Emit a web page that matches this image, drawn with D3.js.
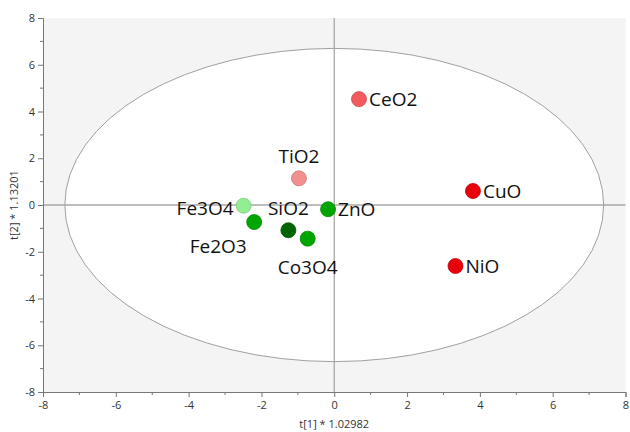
<html>
<head>
  <meta charset="utf-8">
  <script src="https://cdn.jsdelivr.net/npm/d3@7"></script>
  <style>
    body { margin: 0; background: #fff; }
    text { font-family: "Open Sans", "Noto Sans", sans-serif; }
  </style>
</head>
<body>
  <div id="chart"></div>
  <script>
    // scores
    const names = ["CeO2", "CuO", "NiO", "ZnO", "TiO2", "Fe3O4", "Fe2O3", "SiO2", "Co3O4"];
    const t1 = [0.68, 3.81, 3.33, -0.17, -0.97, -2.49, -2.20, -1.26, -0.73];
    const t2 = [4.53, 0.60, -2.61, -0.18, 1.14, -0.03, -0.73, -1.08, -1.44];
    const groups = ["ce", "cu", "cu", "zn", "ti", "fe3", "zn", "si", "zn"];
    const ticks = [-8, -6, -4, -2, 0, 2, 4, 6, 8];
    const ellipseR = [7.4, 6.7];   // Hotelling T2 ellipse radii

    const data = names.map((n, i) => ({ name: n, x: t1[i], y: t2[i], g: groups[i] }));

    const width = 630, height = 432;
    const margin = { top: 18, right: 4, bottom: 40, left: 43 };

    const fill = d3.scaleOrdinal()
      .domain(["ce", "cu", "ti", "fe3", "zn", "si"])
      .range(["#f25a5f", "#e8000b", "#f28f8f", "#93ee93", "#00a600", "#006400"]);

    // label placement relative to the point (dx, dy, anchor)
    const labelPos = {
      CeO2: [10, 0, "start"], CuO: [10, 0, "start"], NiO: [10, 0, "start"], ZnO: [10, 0, "start"],
      TiO2: [0, -22, "middle"], SiO2: [0, -22, "middle"], Fe3O4: [-10, 2, "end"],
      Fe2O3: [-36, 24, "middle"], Co3O4: [0, 28, "middle"]
    };

    const svg = d3.create("svg").attr("width", width).attr("height", height);

    const x = d3.scaleLinear().domain([-8, 8]).range([margin.left, width - margin.right - 0.5]);
    const y = d3.scaleLinear().domain([-8, 8]).range([height - margin.bottom, margin.top]);

    svg.append("rect")
      .attr("x", x(-8)).attr("y", y(8))
      .attr("width", x(8) - x(-8)).attr("height", y(-8) - y(8))
      .attr("fill", "#f4f4f4");

    svg.append("ellipse")
      .attr("cx", x(0)).attr("cy", y(0))
      .attr("rx", x(ellipseR[0]) - x(0)).attr("ry", y(0) - y(ellipseR[1]))
      .attr("fill", "#fff").attr("stroke", "#a0a0a0").attr("stroke-width", 1);

    // zero lines
    svg.append("line")
      .attr("x1", x(0)).attr("x2", x(0)).attr("y1", y(8)).attr("y2", y(-8))
      .attr("stroke", "#a8a8a8").attr("stroke-width", 1.3);
    svg.append("line")
      .attr("x1", x(-8)).attr("x2", x(8)).attr("y1", y(0)).attr("y2", y(0))
      .attr("stroke", "#a8a8a8").attr("stroke-width", 1.3);

    const minor = d3.range(-7, 8, 2);

    const xAxis = svg.append("g")
      .attr("transform", `translate(0,${y(-8)})`)
      .call(d3.axisBottom(x).tickValues(ticks).tickSize(5).tickPadding(4).tickFormat(d => String(d)));
    xAxis.append("g").selectAll("line").data(minor).join("line")
      .attr("x1", d => x(d)).attr("x2", d => x(d)).attr("y1", 0).attr("y2", 3)
      .attr("stroke", "#777");

    const yAxis = svg.append("g")
      .attr("transform", `translate(${x(-8)},0)`)
      .call(d3.axisLeft(y).tickValues(ticks).tickSize(5).tickPadding(3).tickFormat(d => String(d)));
    yAxis.append("g").selectAll("line").data(minor).join("line")
      .attr("y1", d => y(d)).attr("y2", d => y(d)).attr("x1", 0).attr("x2", -3)
      .attr("stroke", "#777");

    svg.selectAll(".domain, .tick line").attr("stroke", "#777");
    svg.selectAll(".tick text").attr("fill", "#333").attr("font-size", 11)
      .style("font-family", "'Open Sans', sans-serif");

    svg.append("text")
      .attr("x", x(0)).attr("y", height - 4)
      .attr("text-anchor", "middle").attr("font-size", 11).attr("fill", "#333")
      .text("t[1] * 1.02982");

    svg.append("text")
      .attr("transform", `translate(18,${y(0)}) rotate(-90)`)
      .attr("text-anchor", "middle").attr("font-size", 11).attr("fill", "#333")
      .text("t[2] * 1.13201");

    svg.append("g").selectAll("circle").data(data).join("circle")
      .attr("cx", d => x(d.x)).attr("cy", d => y(d.y)).attr("r", 7.5)
      .attr("fill", d => fill(d.g))
      .attr("stroke", d => d3.color(fill(d.g)).darker(0.5))
      .attr("stroke-width", 0.8);

    svg.append("g").selectAll("text").data(data).join("text")
      .attr("x", d => x(d.x) + labelPos[d.name][0])
      .attr("y", d => y(d.y) + labelPos[d.name][1])
      .attr("dy", "0.36em")
      .attr("text-anchor", d => labelPos[d.name][2])
      .attr("font-size", 19).attr("fill", "#111")
      .text(d => d.name);

    document.getElementById("chart").appendChild(svg.node());
  </script>
</body>
</html>
